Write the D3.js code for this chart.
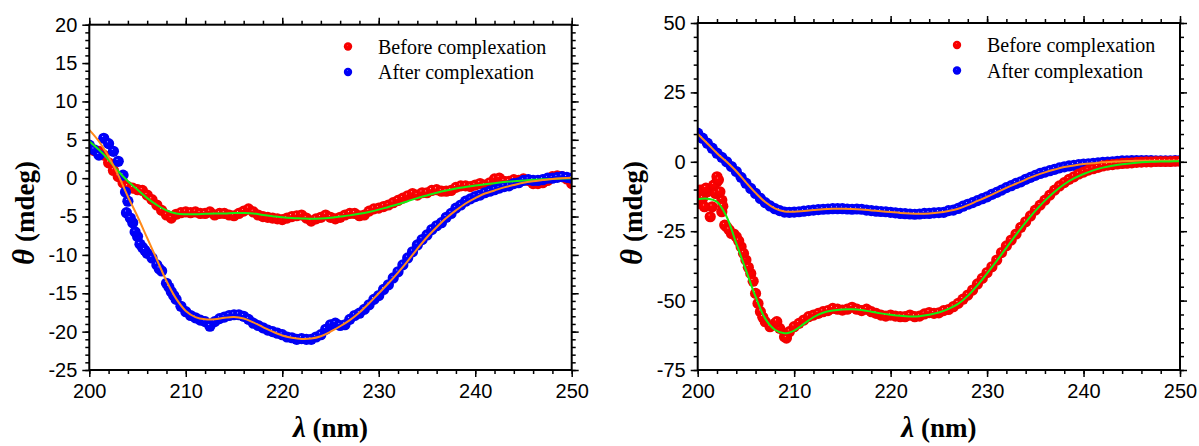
<!DOCTYPE html>
<html>
<head>
<meta charset="utf-8">
<script src="https://cdn.jsdelivr.net/npm/d3@7"></script>
<style>
    body { margin: 0; background: #fff; }
    svg { display: block; }
    .tick text { font-family: "Liberation Sans", Arial, sans-serif; font-size: 20px; fill: #000; }
    .tick line { stroke: #000; stroke-width: 1.5; }
    .axis-title { font-family: "Liberation Serif", "Times New Roman", serif; font-weight: bold; font-size: 27px; }
    .legend-text { font-family: "Liberation Serif", "Times New Roman", serif; font-size: 20px; }
</style>
</head>
<body>
<svg id="chart" width="1199" height="446"></svg>
<script>
'use strict';

(function () {
    const d3 = window.d3;

    // wavelength sampling of the measured points (nm) and of the fitted curves
    const lambdaGrid = d3.range(200, 250.25, 0.5);
    const fitGrid = d3.range(200, 250.5, 1);

    const legendLabels = ['Before complexation', 'After complexation'];

    // ---- left panel (mdeg), sampled every 0.5 nm
    const leftBefore = [
        3.9, 3.6, 3.5, 3.0, 2.0, 1.0, 0.2, -0.6, -1.1, -1.3,
        -1.5, -1.6, -2.2, -2.8, -3.5, -4.2, -4.8, -5.2, -4.7, -4.5,
        -4.4, -4.5, -4.4, -4.6, -4.6, -4.4, -4.8, -4.6, -4.6, -4.8,
        -4.9, -4.6, -4.3, -4.0, -4.4, -4.8, -5.0, -5.1, -5.2, -5.3,
        -5.4, -5.2, -5.0, -4.9, -4.8, -5.2, -5.6, -5.3, -5.1, -4.8,
        -5.1, -5.3, -5.1, -4.8, -4.6, -4.6, -4.9, -4.8, -4.3, -4.0,
        -3.9, -3.7, -3.5, -3.2, -2.9, -2.6, -2.3, -2.0, -2.2, -1.9,
        -1.9, -1.6, -1.5, -1.7, -1.7, -1.6, -1.2, -1.0, -1.0, -1.1,
        -0.9, -0.7, -0.9, -0.6, -0.1, 0.0, -0.4, -0.4, -0.2, -0.3,
        -0.1, -0.3, -0.7, -0.7, -0.6, -0.3, 0.2, 0.3, 0.2, -0.1,
        -0.7
    ];
    const leftAfter = [
        4.3, 3.7, 3.0, 5.2, 4.5, 3.5, 2.2, 0.4, -3.0, -5.8,
        -7.6, -9.0, -9.8, -10.4, -11.3, -12.1, -13.7, -14.8, -15.8, -16.7,
        -17.4, -17.9, -18.2, -18.5, -18.7, -19.3, -18.7, -18.3, -18.1, -17.9,
        -17.8, -17.8, -18.0, -18.4, -18.9, -19.2, -19.5, -19.8, -20.0, -20.2,
        -20.4, -20.7, -20.8, -21.0, -20.9, -21.0, -21.0, -20.7, -20.4, -19.7,
        -19.1, -18.9, -19.2, -19.1, -18.4, -17.9, -17.6, -17.1, -16.5, -15.8,
        -15.3, -14.5, -13.9, -13.0, -12.2, -11.3, -10.4, -9.6, -8.7, -8.0,
        -7.4, -6.7, -6.2, -5.8, -5.1, -4.6, -3.9, -3.5, -3.0, -2.7,
        -2.4, -2.2, -1.9, -1.7, -1.5, -1.3, -1.1, -1.0, -0.7, -0.6,
        -0.3, -0.2, -0.3, -0.3, -0.2, 0.0, 0.0, 0.1, 0.2, 0.1,
        0.0
    ];
    // extra points where the steep descent leaves gaps: [nm, mdeg]
    const leftAfterExtra = [
        [203.75, -1.8], [203.85, -4.5], [204.25, -5.2], [204.75, -7.0], [205.25, -8.6],
        [205.75, -9.4], [207.25, -11.8], [208.25, -14.2], [208.75, -15.3]
    ];
    // fitted curves, every 1 nm
    const leftBeforeFit = [
        4.8, 3.7, 2.4, 0.9, -0.4, -1.5, -2.6, -3.5, -4.2, -4.6,
        -4.7, -4.7, -4.65, -4.6, -4.6, -4.55, -4.55, -4.6, -4.8, -4.95,
        -5.1, -5.2, -5.25, -5.3, -5.25, -5.15, -5.0, -4.85, -4.65, -4.4,
        -4.1, -3.75, -3.4, -3.0, -2.6, -2.25, -1.9, -1.6, -1.35, -1.15,
        -0.95, -0.8, -0.65, -0.5, -0.4, -0.3, -0.2, -0.15, -0.1, -0.05,
        0.0
    ];
    const leftAfterFit = [
        6.3, 4.8, 2.8, 0.4, -2.4, -5.0, -7.8, -10.6, -13.4, -15.7,
        -17.3, -18.1, -18.4, -18.4, -18.2, -18.1, -18.3, -18.8, -19.4, -20.0,
        -20.5, -20.8, -20.95, -20.9, -20.6, -20.0, -19.3, -18.5, -17.5, -16.3,
        -15.0, -13.7, -12.3, -10.8, -9.2, -7.7, -6.4, -5.2, -4.2, -3.3,
        -2.6, -2.0, -1.6, -1.2, -0.9, -0.6, -0.4, -0.25, -0.1, 0.0,
        0.05
    ];

    // ---- right panel (mdeg), sampled every 0.5 nm
    const rightBefore = [
        -15.0, -13.2, -10.8, -16.2, -7.2, -13.8, -23.4, -25.8, -27.0, -30.6,
        -35.4, -40.2, -47.4, -54.0, -57.6, -59.4, -58.2, -60.0, -63.0, -61.2,
        -59.4, -58.2, -57.0, -55.8, -55.2, -54.6, -54.0, -53.6, -52.8, -53.1,
        -53.4, -53.1, -52.4, -53.1, -53.6, -53.1, -54.0, -54.6, -55.2, -55.6,
        -55.2, -55.6, -55.8, -55.8, -55.2, -55.8, -55.6, -54.8, -54.3, -54.6,
        -54.4, -53.6, -53.2, -52.2, -51.0, -49.5, -48.0, -46.2, -44.0, -42.0,
        -39.9, -37.8, -35.4, -32.7, -30.3, -28.2, -26.0, -23.6, -21.6, -19.5,
        -17.4, -15.6, -13.8, -12.0, -10.2, -8.7, -7.5, -6.3, -5.4, -4.4,
        -3.7, -3.0, -2.5, -2.0, -1.5, -1.2, -1.0, -0.8, -0.6, -0.5,
        -0.4, -0.2, -0.1, 0.0, 0.0, 0.1, 0.1, 0.1, 0.1, 0.2,
        0.2
    ];
    const rightBeforeExtra = [
        [200.25, -10.2], [200.6, -10.2], [200.7, -16.2], [200.85, -9.5], [201.3, -19.8],
        [201.65, -8.4], [201.85, -11.4], [202.0, -5.4], [202.15, -6.5], [202.3, -10.8],
        [202.5, -18.0], [202.6, -16.0], [202.8, -22.8], [203.25, -24.5], [203.75, -26.0],
        [204.25, -28.5], [204.75, -33.0], [205.25, -38.0], [205.75, -43.0], [206.25, -51.0],
        [206.75, -56.0], [208.2, -57.6], [209.2, -63.5]
    ];
    const rightAfter = [
        10.3, 8.5, 6.7, 4.9, 3.1, 1.6, 0.0, -1.7, -3.5, -5.6,
        -7.7, -9.6, -11.4, -13.2, -14.7, -15.9, -16.9, -17.6, -18.1, -18.2,
        -18.1, -18.0, -17.8, -17.6, -17.4, -17.2, -17.1, -17.0, -16.9, -16.9,
        -16.9, -17.0, -17.1, -17.0, -17.1, -17.4, -17.6, -17.8, -17.9, -18.0,
        -18.2, -18.4, -18.6, -18.7, -18.8, -18.9, -18.8, -18.6, -18.6, -18.4,
        -18.3, -18.2, -17.6, -17.4, -16.8, -16.0, -15.3, -14.7, -14.0, -13.3,
        -12.6, -11.7, -11.0, -10.2, -9.3, -8.6, -7.8, -7.2, -6.3, -5.6,
        -4.9, -4.2, -3.7, -3.2, -2.7, -2.2, -1.8, -1.5, -1.3, -1.0,
        -0.8, -0.7, -0.6, -0.4, -0.2, -0.1, 0.0, 0.2, 0.3, 0.3,
        0.4, 0.4, 0.4, 0.4, 0.4, 0.3, 0.3, 0.3, 0.3, 0.4,
        0.4
    ];
    const rightBeforeFit = [
        -13.5, -13.3, -14.4, -19.8, -29.4, -39.0, -48.6, -56.5, -60.5, -61.8,
        -60.8, -58.4, -56.0, -54.4, -53.6, -53.2, -53.1, -53.4, -54.0, -54.6,
        -55.1, -55.5, -55.7, -55.6, -55.1, -54.3, -53.0, -51.2, -48.3, -44.5,
        -40.2, -35.7, -31.0, -26.3, -21.8, -17.7, -14.0, -10.8, -8.1, -6.0,
        -4.4, -3.1, -2.1, -1.4, -0.9, -0.5, -0.2, 0.0, 0.1, 0.15,
        0.2
    ];
    const rightAfterFit = [
        10.0, 6.6, 3.1, 0.0, -3.4, -7.4, -11.2, -14.5, -16.8, -17.9,
        -18.0, -17.7, -17.4, -17.1, -16.95, -16.9, -17.0, -17.2, -17.5, -17.8,
        -18.1, -18.4, -18.6, -18.7, -18.6, -18.3, -17.7, -16.9, -15.6, -14.1,
        -12.6, -11.0, -9.4, -7.9, -6.4, -5.0, -3.8, -2.8, -1.9, -1.3,
        -0.8, -0.5, -0.2, 0.0, 0.2, 0.3, 0.4, 0.4, 0.4, 0.4,
        0.4
    ];

    const svg = d3.select('#chart');
    const defs = svg.append('defs');

    function ballGradient(id, light, mid, dark) {
        const grad = defs.append('radialGradient')
            .attr('id', id)
            .attr('cx', '50%').attr('cy', '50%').attr('r', '50%')
            .attr('fx', '38%').attr('fy', '32%');
        grad.append('stop').attr('offset', '0%').attr('stop-color', light);
        grad.append('stop').attr('offset', '16%').attr('stop-color', mid);
        grad.append('stop').attr('offset', '100%').attr('stop-color', dark);
    }
    ballGradient('ball-red', '#ffc8c8', '#ff0000', '#f00000');
    ballGradient('ball-blue', '#c8c8ff', '#0000ff', '#0000f0');

    const pair = (values) => values.map((v, i) => [lambdaGrid[i], v]);
    const fitPair = (values) => values.map((v, i) => [fitGrid[i], v]);
    const plainNumber = (d) => String(d);

    function drawPanel(cfg) {
        const x = d3.scaleLinear().domain([200, 250]).range([cfg.left, cfg.right]);
        const y = d3.scaleLinear().domain(cfg.yDomain).range([cfg.bottom, cfg.top]);
        const g = svg.append('g');

        defs.append('clipPath').attr('id', cfg.id + '-clip')
            .append('rect')
            .attr('x', cfg.left).attr('y', cfg.top)
            .attr('width', cfg.right - cfg.left).attr('height', cfg.bottom - cfg.top);

        const plot = g.append('g').attr('clip-path', `url(#${cfg.id}-clip)`);

        cfg.series.forEach((s) => {
            plot.append('g').selectAll('circle')
                .data(s.points)
                .join('circle')
                .attr('cx', (d) => x(d[0]))
                .attr('cy', (d) => y(d[1]))
                .attr('r', 5.6)
                .attr('fill', `url(#${s.gradient})`);
        });

        const line = d3.line()
            .x((d) => x(d[0]))
            .y((d) => y(d[1]))
            .curve(d3.curveCatmullRom.alpha(0.5));

        cfg.fits.forEach((f) => {
            plot.append('path')
                .datum(f.points)
                .attr('d', line)
                .attr('fill', 'none')
                .attr('stroke', f.color)
                .attr('stroke-width', 2);
        });

        const minorX = d3.range(200, 250.5, 2);
        const majorX = d3.range(200, 250.5, 10);

        function addAxis(axis, transform) {
            const a = g.append('g').attr('transform', transform).call(axis);
            a.select('.domain').remove();
            return a;
        }

        // bottom
        addAxis(d3.axisBottom(x).tickValues(minorX).tickSize(4).tickFormat(''), `translate(0,${cfg.bottom})`);
        addAxis(d3.axisBottom(x).tickValues(majorX).tickSize(7).tickPadding(7).tickFormat(plainNumber), `translate(0,${cfg.bottom})`);
        // top
        addAxis(d3.axisTop(x).tickValues(minorX).tickSize(4).tickFormat(''), `translate(0,${cfg.top})`);
        addAxis(d3.axisTop(x).tickValues(majorX).tickSize(7).tickFormat(''), `translate(0,${cfg.top})`);
        // left
        addAxis(d3.axisLeft(y).tickValues(cfg.minorY).tickSize(4).tickFormat(''), `translate(${cfg.left},0)`);
        addAxis(d3.axisLeft(y).tickValues(cfg.majorY).tickSize(7).tickPadding(5).tickFormat(plainNumber), `translate(${cfg.left},0)`);
        // right
        addAxis(d3.axisRight(y).tickValues(cfg.minorY).tickSize(4).tickFormat(''), `translate(${cfg.right},0)`);
        addAxis(d3.axisRight(y).tickValues(cfg.majorY).tickSize(7).tickFormat(''), `translate(${cfg.right},0)`);

        g.append('rect')
            .attr('x', cfg.left).attr('y', cfg.top)
            .attr('width', cfg.right - cfg.left).attr('height', cfg.bottom - cfg.top)
            .attr('fill', 'none')
            .attr('stroke', '#000')
            .attr('stroke-width', 2);

        // axis titles
        const yt = g.append('text')
            .attr('class', 'axis-title')
            .attr('text-anchor', 'middle')
            .attr('transform', `translate(${cfg.yTitleX},213) rotate(-90)`);
        yt.append('tspan').attr('font-style', 'italic').attr('font-size', '31px').text('θ');
        yt.append('tspan').text(' (mdeg)');

        const xt = g.append('text')
            .attr('class', 'axis-title')
            .attr('text-anchor', 'middle')
            .attr('x', (cfg.left + cfg.right) / 2)
            .attr('y', 437);
        xt.append('tspan').attr('font-style', 'italic').attr('font-size', '29px').text('λ');
        xt.append('tspan').text(' (nm)');

        // legend
        const legend = g.append('g').attr('transform', `translate(${cfg.legendX},${cfg.legendY})`);
        legendLabels.forEach((label, i) => {
            legend.append('circle')
                .attr('cx', 0).attr('cy', i * 25.5)
                .attr('r', 4.2)
                .attr('fill', i === 0 ? 'url(#ball-red)' : 'url(#ball-blue)');
            legend.append('text')
                .attr('class', 'legend-text')
                .attr('x', 30).attr('y', i * 25.5 + 7)
                .text(label);
        });
    }

    drawPanel({
        id: 'left',
        left: 89.3, right: 571.7, top: 24.7, bottom: 370,
        yDomain: [-25, 20],
        majorY: d3.range(-25, 20.5, 5),
        minorY: d3.range(-25, 20.5, 1),
        yTitleX: 34,
        legendX: 348, legendY: 46.5,
        series: [
            {points: pair(leftBefore), gradient: 'ball-red'},
            {points: pair(leftAfter).concat(leftAfterExtra), gradient: 'ball-blue'}
        ],
        fits: [
            {points: fitPair(leftBeforeFit), color: '#14ee14'},
            {points: fitPair(leftAfterFit), color: '#ff8a1a'}
        ]
    });

    drawPanel({
        id: 'right',
        left: 697.7, right: 1180, top: 23, bottom: 370,
        yDomain: [-75, 50],
        majorY: d3.range(-75, 50.5, 25),
        minorY: d3.range(-75, 50.5, 5),
        yTitleX: 642,
        legendX: 957, legendY: 45,
        series: [
            {points: pair(rightAfter), gradient: 'ball-blue'},
            {points: pair(rightBefore).concat(rightBeforeExtra), gradient: 'ball-red'}
        ],
        fits: [
            {points: fitPair(rightAfterFit), color: '#ff8a1a'},
            {points: fitPair(rightBeforeFit), color: '#14ee14'}
        ]
    });
})();
</script>
</body>
</html>
